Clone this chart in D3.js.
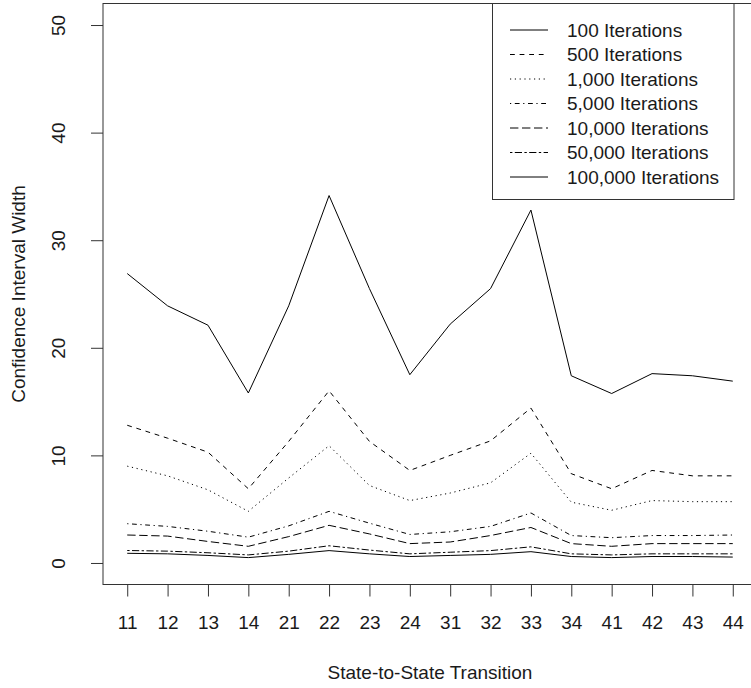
<!DOCTYPE html>
<html>
<head>
<meta charset="utf-8">
<script src="https://cdn.jsdelivr.net/npm/d3@7"></script>
<style>
  html, body { margin: 0; padding: 0; background: #fff; }
  svg { display: block; }
  text { font-family: "Liberation Sans", Arial, sans-serif; fill: #1a1a1a; }
</style>
</head>
<body>
<svg id="chart" width="751" height="688"></svg>
<script>
// ---- data ----
const categories = ["11","12","13","14","21","22","23","24","31","32","33","34","41","42","43","44"];
const seriesNames = ["100 Iterations","500 Iterations","1,000 Iterations","5,000 Iterations","10,000 Iterations","50,000 Iterations","100,000 Iterations"];
const it100    = [26.9, 23.9, 22.1, 15.8, 23.9, 34.15, 25.5, 17.5, 22.2, 25.5, 32.8, 17.4, 15.75, 17.6, 17.4, 16.9];
const it500    = [12.8, 11.6, 10.3, 6.9, 11.3, 16.0, 11.3, 8.6, 10.0, 11.35, 14.4, 8.3, 6.9, 8.6, 8.1, 8.1];
const it1000   = [9.0, 8.1, 6.8, 4.8, 7.9, 10.9, 7.2, 5.8, 6.5, 7.45, 10.2, 5.65, 4.9, 5.8, 5.7, 5.7];
const it5000   = [3.65, 3.4, 2.95, 2.4, 3.45, 4.8, 3.7, 2.65, 2.9, 3.4, 4.65, 2.55, 2.35, 2.55, 2.55, 2.6];
const it10000  = [2.6, 2.5, 2.0, 1.55, 2.45, 3.5, 2.7, 1.8, 1.95, 2.55, 3.3, 1.8, 1.55, 1.8, 1.8, 1.8];
const it50000  = [1.16, 1.1, 0.95, 0.75, 1.1, 1.6, 1.2, 0.85, 1.0, 1.15, 1.5, 0.85, 0.75, 0.85, 0.85, 0.85];
const it100000 = [0.9, 0.85, 0.7, 0.5, 0.8, 1.15, 0.85, 0.6, 0.7, 0.8, 1.05, 0.6, 0.5, 0.6, 0.6, 0.55];
const yTicks = [0, 10, 20, 30, 40, 50];
const xTitle = "State-to-State Transition";
const yTitle = "Confidence Interval Width";

// ---- styles (R lty 1..6, then 1) ----
const dashes = ["none", "4.8,4.8", "1.2,3.6", "1.2,3.6,4.8,3.6", "8.4,3.6", "2.4,2.4,7.2,2.4", "none"];
const allSeries = [it100, it500, it1000, it5000, it10000, it50000, it100000];

const svg = d3.select("#chart");
const box = { left: 103, right: 757, top: 3.5, bottom: 584.5 };

const x = d3.scaleLinear().domain([-0.6, categories.length - 1 + 0.6]).range([box.left, box.right]);
const y = d3.scaleLinear().domain([-2, 52]).range([box.bottom, box.top]);

// lines
const line = d3.line().x((d, i) => x(i)).y(d => y(d));
svg.append("g").selectAll("path").data(allSeries).join("path")
  .attr("d", d => line(d))
  .attr("fill", "none")
  .attr("stroke", "#000")
  .attr("stroke-width", 1)
  .attr("stroke-dasharray", (d, i) => dashes[i]);

// box
svg.append("rect")
  .attr("x", box.left).attr("y", box.top)
  .attr("width", box.right - box.left).attr("height", box.bottom - box.top)
  .attr("fill", "none").attr("stroke", "#333").attr("stroke-width", 1);

// x axis
const xAxis = d3.axisBottom(x)
  .tickValues(d3.range(categories.length))
  .tickFormat(i => categories[i])
  .tickSize(12).tickPadding(19);
const gx = svg.append("g").attr("transform", `translate(0,${box.bottom})`).call(xAxis);
gx.select(".domain").remove();
gx.selectAll(".tick line").attr("stroke", "#333");
gx.selectAll(".tick text").attr("font-size", 19).attr("fill", "#1a1a1a")
  .style("font-family", '"Liberation Sans", Arial, sans-serif');

// y axis
const yAxis = d3.axisLeft(y).tickValues(yTicks).tickSize(12).tickPadding(0);
const gy = svg.append("g").attr("transform", `translate(${box.left},0)`).call(yAxis);
gy.select(".domain").remove();
gy.selectAll(".tick line").attr("stroke", "#333");
gy.selectAll(".tick text")
  .attr("font-size", 19).attr("fill", "#1a1a1a")
  .style("font-family", '"Liberation Sans", Arial, sans-serif')
  .attr("text-anchor", "middle")
  .attr("x", 0).attr("dy", 0)
  .attr("transform", "translate(-38,0) rotate(-90)");

// titles
svg.append("text")
  .attr("x", (box.left + 757) / 2 - 0).attr("y", 679)
  .attr("text-anchor", "middle").attr("font-size", 19)
  .text(xTitle);
svg.append("text")
  .attr("transform", `translate(25,${y(25)}) rotate(-90)`)
  .attr("text-anchor", "middle").attr("font-size", 19)
  .text(yTitle);

// legend
const lg = svg.append("g");
lg.append("rect")
  .attr("x", 492.5).attr("y", box.top)
  .attr("width", 734 - 492.5).attr("height", 199.5 - box.top)
  .attr("fill", "#fff").attr("stroke", "#333").attr("stroke-width", 1);
const rowY = i => 30 + i * 24.5;
lg.selectAll("line.key").data(seriesNames).join("line")
  .attr("class", "key")
  .attr("x1", 510).attr("x2", 548)
  .attr("y1", (d, i) => rowY(i)).attr("y2", (d, i) => rowY(i))
  .attr("stroke", "#000").attr("stroke-width", 1)
  .attr("stroke-dasharray", (d, i) => dashes[i]);
lg.selectAll("text").data(seriesNames).join("text")
  .attr("x", 567).attr("y", (d, i) => rowY(i)).attr("dy", "0.35em")
  .attr("font-size", 19)
  .text(d => d);
</script>
</body>
</html>
